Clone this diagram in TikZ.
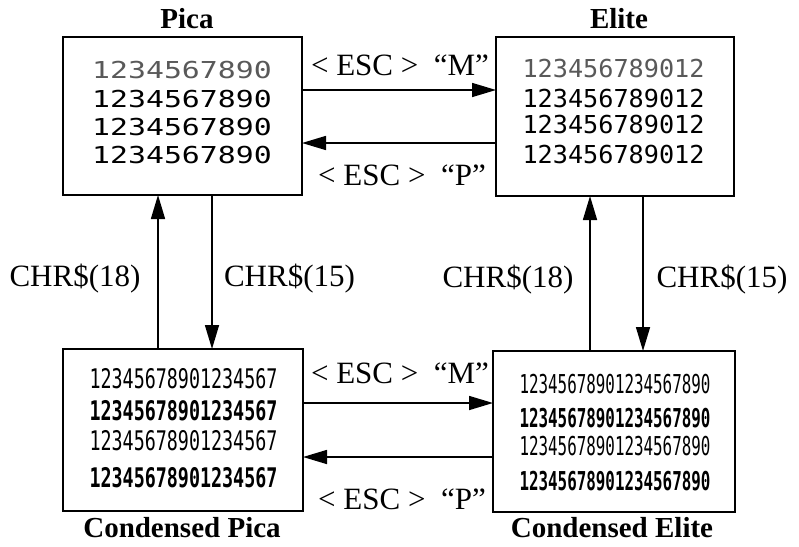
\documentclass[tikz,border=0pt]{standalone}
\usepackage{fontspec}
\setmainfont{Liberation Serif}
\newfontfamily\picaf[FakeStretch=1.28]{DejaVu Sans Mono}
\newfontfamily\elitef[FakeStretch=1.02]{DejaVu Sans Mono}
\newfontfamily\cpicaf[FakeStretch=0.68]{DejaVu Sans Mono}
\newfontfamily\cpicabf[FakeStretch=0.68]{DejaVu Sans Mono Bold}
\newfontfamily\celitef[FakeStretch=0.61]{DejaVu Sans Mono}
\newfontfamily\celitebf[FakeStretch=0.61]{DejaVu Sans Mono Bold}
\usetikzlibrary{arrows.meta}
\tikzset{
  mybox/.style={draw, line width=2pt, inner sep=0pt, outer sep=0pt},
  ttl/.style={anchor=base, inner sep=0pt, font=\bfseries\fontsize{29}{34}\selectfont},
  lbl/.style={anchor=base, inner sep=0pt, font=\fontsize{31}{36}\selectfont},
  pl/.style={anchor=base, inner sep=0pt, font=\picaf\fontsize{23.3}{28}\selectfont},
  el/.style={anchor=base, inner sep=0pt, font=\elitef\fontsize{24.7}{28}\selectfont},
  cpl/.style={anchor=base, inner sep=0pt, font=\cpicaf\fontsize{27}{30}\selectfont},
  cplb/.style={anchor=base, inner sep=0pt, font=\cpicabf\fontsize{27}{30}\selectfont},
  cel/.style={anchor=base, inner sep=0pt, font=\celitef\fontsize{26}{30}\selectfont},
  celb/.style={anchor=base, inner sep=0pt, font=\celitebf\fontsize{26}{30}\selectfont},
  draft/.style={text=black!65},
  arr/.style={line width=1.6pt, -{Triangle[length=24pt,width=14pt]}}
}
\begin{document}
\begin{tikzpicture}[x=1pt,y=-1pt]
\useasboundingbox (0,0) rectangle (799,546);
% boxes
\node[mybox, minimum width=239pt, minimum height=158pt] (pica) at (182.5,116) {};
\node[mybox, minimum width=238pt, minimum height=159pt] (elite) at (615,116.5) {};
\node[mybox, minimum width=240pt, minimum height=162pt] (cpica) at (183,430) {};
\node[mybox, minimum width=242pt, minimum height=161pt] (celite) at (614,431.5) {};
% titles
\node[ttl] (tpica) at (187,28) {Pica};
\node[ttl] (telite) at (619,28) {Elite};
\node[ttl] (tcpica) at (182,537) {Condensed Pica};
\node[ttl] (tcelite) at (612,537) {Condensed Elite};
% pica text
\node[pl, draft] (p1) at (182,78) {1234567890};
\node[pl] (p2) at (182,107) {1234567890};
\node[pl] (p3) at (182,135) {1234567890};
\node[pl] (p4) at (182,163) {1234567890};
% elite text
\node[el, draft] (e1) at (613.5,77) {123456789012};
\node[el] (e2) at (613.5,107) {123456789012};
\node[el] (e3) at (613.5,133) {123456789012};
\node[el] (e4) at (613.5,163) {123456789012};
% condensed pica text
\node[cpl] (cp1) at (183.5,388) {12345678901234567};
\node[cplb] (cp2) at (183.5,420) {12345678901234567};
\node[cpl] (cp3) at (183.5,450) {12345678901234567};
\node[cplb] (cp4) at (183.5,487) {12345678901234567};
% condensed elite text
\node[cel] (ce1) at (615,393) {12345678901234567890};
\node[celb] (ce2) at (615,427) {12345678901234567890};
\node[cel] (ce3) at (615,455) {12345678901234567890};
\node[celb] (ce4) at (615,490) {12345678901234567890};
% row / column coordinates
\coordinate (rM1) at (0,90);
\coordinate (rP1) at (0,143);
\coordinate (rM2) at (0,403);
\coordinate (rP2) at (0,457);
\coordinate (cLu) at (158,0);
\coordinate (cLd) at (212,0);
\coordinate (cRu) at (590,0);
\coordinate (cRd) at (643,0);
% horizontal arrows
\draw[arr] (pica.east |- rM1) -- (elite.west |- rM1);
\draw[arr] (elite.west |- rP1) -- (pica.east |- rP1);
\draw[arr] (cpica.east |- rM2) -- (celite.west |- rM2);
\draw[arr] (celite.west |- rP2) -- (cpica.east |- rP2);
% vertical arrows
\draw[arr] (cpica.north -| cLu) -- (pica.south -| cLu);
\draw[arr] (pica.south -| cLd) -- (cpica.north -| cLd);
\draw[arr] (celite.north -| cRu) -- (elite.south -| cRu);
\draw[arr] (elite.south -| cRd) -- (celite.north -| cRd);
% labels
\node[lbl] (lM1) at (400,75) {< ESC >\ \ “M”};
\node[lbl] (lP1) at (402,185) {< ESC >\ \ “P”};
\node[lbl] (lM2) at (400,383) {< ESC >\ \ “M”};
\node[lbl] (lP2) at (402,509) {< ESC >\ \ “P”};
\node[lbl] (l18L) at (75,286) {CHR\$(18)};
\node[lbl] (l15L) at (289.5,286) {CHR\$(15)};
\node[lbl] (l18R) at (508,287) {CHR\$(18)};
\node[lbl] (l15R) at (722,287) {CHR\$(15)};
\end{tikzpicture}
\end{document}
